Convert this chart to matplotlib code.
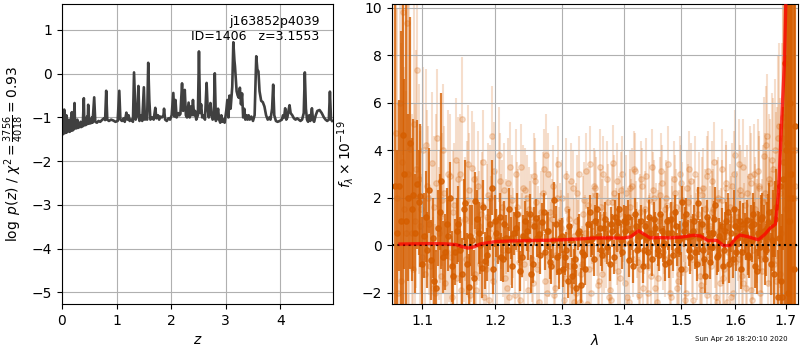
import matplotlib
matplotlib.use('Agg')
import matplotlib.pyplot as plt
import numpy as np

# redshift grid and log p(z)
pz_z = [0.00, 0.01, 0.02, 0.03, 0.04, 0.05, 0.06, 0.07, 0.08, 0.09,
        0.11, 0.13, 0.14, 0.16, 0.18, 0.19, 0.21, 0.23, 0.24, 0.26,
        0.28, 0.29, 0.32, 0.34, 0.35, 0.38, 0.40, 0.41, 0.44, 0.46,
        0.47, 0.48, 0.50, 0.53, 0.55, 0.56, 0.59, 0.61, 0.64, 0.67,
        0.70, 0.74, 0.77, 0.79, 0.81, 0.83, 0.86, 0.90, 0.94, 0.98,
        1.02, 1.05, 1.07, 1.10, 1.13, 1.15, 1.18, 1.20, 1.22, 1.24,
        1.27, 1.30, 1.32, 1.35, 1.38, 1.40, 1.42, 1.45, 1.47, 1.50,
        1.52, 1.54, 1.56, 1.58, 1.60, 1.62, 1.65, 1.68, 1.71, 1.73,
        1.76, 1.78, 1.80, 1.83, 1.86, 1.87, 1.89, 1.92, 1.95, 1.98,
        2.01, 2.04, 2.06, 2.08, 2.10, 2.13, 2.15, 2.17, 2.20, 2.22,
        2.25, 2.27, 2.29, 2.32, 2.34, 2.36, 2.38, 2.40, 2.42, 2.44,
        2.46, 2.49, 2.51, 2.53, 2.55, 2.57, 2.59, 2.62, 2.65, 2.67,
        2.69, 2.72, 2.74, 2.76, 2.78, 2.80, 2.82, 2.84, 2.86, 2.88,
        2.90, 2.92, 2.94, 2.96, 2.98, 3.01, 3.03, 3.05, 3.07, 3.09,
        3.12, 3.14, 3.16, 3.17, 3.20, 3.22, 3.24, 3.26, 3.28, 3.30,
        3.32, 3.34, 3.36, 3.38, 3.40, 3.42, 3.44, 3.47, 3.50, 3.53,
        3.56, 3.58, 3.60, 3.62, 3.65, 3.68, 3.71, 3.74, 3.77, 3.80,
        3.82, 3.85, 3.87, 3.89, 3.92, 3.95, 3.99, 4.03, 4.05, 4.07,
        4.09, 4.11, 4.13, 4.15, 4.17, 4.19, 4.22, 4.25, 4.28, 4.31,
        4.34, 4.37, 4.40, 4.43, 4.45, 4.47, 4.49, 4.51, 4.53, 4.55,
        4.58, 4.60, 4.62, 4.65, 4.68, 4.72, 4.76, 4.80, 4.83, 4.86,
        4.89, 4.91, 4.93, 4.95]
pz_logp = [-1.38, -0.85, -1.38, -1.30, -0.82, -1.36, -0.98, -1.35, -0.95, -1.34,
           -1.30, -1.05, -1.33, -1.30, -0.88, -1.30, -1.28, -0.67, -1.25, -1.25,
           -1.05, -1.24, -1.22, -1.10, -1.22, -1.20, -0.56, -1.18, -1.17, -0.98,
           -1.15, -0.71, -1.14, -1.13, -1.00, -1.12, -0.54, -1.10, -1.12, -1.08,
           -1.10, -1.05, -1.02, -1.06, -0.39, -1.05, -1.08, -1.05, -1.07, -1.10,
           -1.08, -0.39, -1.05, -1.08, -1.02, -1.10, -0.89, -1.05, -0.95, -1.08,
           -1.05, -1.10, 0.03, -1.05, -0.95, -0.28, -1.08, -0.95, -1.08, -0.31,
           -1.05, -0.98, -1.05, 0.25, -0.60, -1.05, -1.00, -1.05, -0.78, -1.02,
           -0.95, -1.05, -0.98, -1.00, -0.95, -0.80, -1.05, -1.08, -1.02, -1.05,
           -0.95, -0.44, -0.98, -0.60, -1.00, -0.90, -0.95, -0.92, -0.22, -0.85,
           -0.37, -0.95, -1.00, -0.66, -1.00, -0.75, -0.95, -0.60, -0.95, -0.85,
           -1.05, -0.95, 0.51, -0.90, -0.70, -1.00, -0.95, -1.05, -0.21, -0.80,
           -1.00, -0.67, -0.95, -1.05, -1.02, 0.01, -1.08, -1.00, -0.80, -1.05,
           -1.12, -0.95, -1.10, -1.05, -1.12, -0.85, -0.60, -1.00, -0.50, -0.80,
           -0.30, 0.72, 0.30, 0.17, -0.40, -0.50, -0.55, -0.32, -0.70, -0.45,
           -1.00, -0.80, -1.05, -0.95, -1.05, -0.95, -1.05, -0.98, -1.08, -0.95,
           0.40, 0.10, 0.05, -0.40, -0.62, -0.65, -0.75, -0.95, -1.05, -1.00,
           -1.05, -0.80, -0.25, -0.95, -1.08, -1.10, -1.08, -1.05, -0.95, -1.00,
           -0.79, -1.05, -1.00, -0.85, -0.72, -0.90, -0.95, -1.02, -1.05, -1.02,
           -1.05, -1.08, -1.05, -0.90, 0.03, -0.80, -1.05, -1.10, -0.95, -1.08,
           -0.79, -1.05, -1.10, -0.95, -0.85, -0.83, -0.90, -1.00, -1.05, -1.08,
           -1.05, -0.41, -1.05, -1.08]

# G141 spectra, 46.5 A pixels (microns); two dark beams, three light beams
dw = 0.00465
dark_w0 = [1.0650, 1.0673]
light_w0 = [1.0658, 1.0673, 1.0688]

dark_flux = [2.5, 2.5, 4.65, 1.0, 4.3, 2.1, 2.55, 2.08, 0.4, -0.2,
             -0.63, -1.5, 0.7, 2.71, -0.3, 0.4, -0.9, -0.3, 0.88, -1.2,
             1.75, -1.76, 0.2, 1.87, 0.5, -0.95, -0.66, 0.3, 2.42, 1.0,
             0.2, -0.5, 0.9, -0.2, 0.3, 0.5, 1.3, -1.1, 0.4, 0.6,
             1.3, -0.8, 1.15, 0.45, 0.95, -0.3, 0.6, -0.9, 1.9, -0.5,
             0.3, -1.0, -0.2, 0.8, -1.3, -0.6, 0.5, -1.7, -0.4, 0.2,
             1.4, 0.3, 1.0, 0.4, -0.2, 0.7, -0.1, -0.8, 0.6, 1.2,
             0.95, 0.2, 1.0, 0.95, -0.65, 0.5, 1.3, -0.2, 0.4, -0.9,
             0.8, -0.3, 0.5, 1.1, 0.2, -0.4, 0.6, 0.1, 1.0, -0.7,
             0.5, 1.4, -0.2, 0.3, 1.8, 0.9, 0.35, -0.5, 0.6, -0.3,
             1.75, 0.4, -0.2, -1.3, 0.3, -0.7, 0.5, 1.7, -0.4, 0.2,
             -0.9, 0.6, 1.4, 0.1, -0.6, 0.8, 0.3, 1.0, -0.3, 0.5,
             1.05, -0.5, 0.2, 0.9, -1.1, 0.4, 1.1, 0.6, -0.2, 0.95,
             -0.8, 0.9, 1.1, -2.2, 2.5, -2.2, 7.65, 4.3, 1.0, 3.0,
             -1.0]
dark_err = [20, 3.6, 12, 12, 5.3, 3.2, 2.7, 3.0, 1.8, 1.6,
            1.7, 1.5, 1.6, 3.7, 1.6, 1.5, 1.5, 1.4, 1.6, 1.5,
            1.85, 1.4, 1.5, 1.2, 1.3, 1.3, 1.2, 1.2, 1.15, 1.1,
            1.0, 1.0, 0.95, 0.95, 0.9, 0.9, 0.9, 0.85, 0.85, 0.85,
            0.85, 0.8, 0.8, 0.8, 0.8, 0.75, 0.8, 0.75, 0.75, 0.75,
            0.75, 0.75, 0.75, 0.7, 0.75, 0.75, 0.7, 0.75, 0.7, 0.7,
            0.7, 0.7, 0.7, 0.7, 0.7, 0.7, 0.7, 0.7, 0.7, 0.7,
            0.7, 0.7, 0.7, 0.7, 0.7, 0.7, 0.7, 0.7, 0.7, 0.7,
            0.7, 0.7, 0.7, 0.7, 0.7, 0.7, 0.7, 0.7, 0.7, 0.7,
            0.7, 0.7, 0.7, 0.7, 0.7, 0.7, 0.7, 0.7, 0.7, 0.7,
            0.7, 0.7, 0.7, 0.7, 0.7, 0.75, 0.75, 0.75, 0.75, 0.75,
            0.75, 0.8, 0.8, 0.8, 0.8, 0.8, 0.8, 0.85, 0.85, 0.85,
            0.85, 0.9, 0.9, 0.9, 0.95, 1.0, 1.0, 1.1, 1.1, 1.2,
            1.3, 1.4, 1.6, 2.0, 2.6, 3.5, 20, 20, 20, 20,
            20]
dark2_flux = [0.5, 1.0, 3.0, 2.0, 1.5, 0.5, 1.8, -0.8, 1.2, 2.3,
              0.3, -1.8, 1.4, -0.5, 0.9, 2.0, -1.3, 0.6, -0.2, 1.5,
              -0.8, 0.4, -1.4, 1.1, 0.0, 1.6, -0.4, 0.9, -1.0, 0.5,
              1.2, -0.6, 0.3, 1.5, -0.9, 0.7, 0.1, -0.5, 1.0, 0.2,
              -1.2, 0.8, 0.3, -0.4, 1.4, 0.6, -0.7, 0.2, 0.9, -1.1,
              0.4, -0.5, -1.5, 0.2, -0.9, -1.8, 0.6, -0.3, -1.0, 0.9,
              0.2, -0.6, 1.5, 0.7, -0.4, 1.1, 0.3, 0.9, -0.5, 0.4,
              1.5, -0.3, 0.6, 1.2, 0.1, -0.9, 0.8, 0.4, 1.0, -0.2,
              0.3, 1.2, -0.6, 0.7, -0.2, 1.3, 0.0, -0.8, 0.5, 1.1,
              -0.4, 0.8, 0.2, -1.0, 0.6, 1.3, -0.2, 0.4, 1.0, -0.8,
              0.3, 0.9, -0.6, 1.2, 0.5, -0.1, 1.1, -0.5, 0.4, 0.8,
              -0.2, 1.0, -0.8, 0.5, 1.5, -0.3, 0.7, -1.0, 0.9, 0.2,
              -0.4, 0.8, 1.3, -0.9, 0.5, -0.1, 1.2, -0.6, 0.7, 1.4,
              0.2, -1.2, 1.6, 0.3, -1.5, 2.8, 4.0, -2.0, 6.0, 2.0,
              5.0]
dark2_err = [3.5, 8.0, 4.0, 3.5, 3.0, 2.5, 2.2, 2.0, 1.9, 1.8,
             1.7, 1.6, 1.6, 1.5, 1.5, 1.5, 1.4, 1.4, 1.4, 1.3,
             1.3, 1.3, 1.2, 1.2, 1.2, 1.15, 1.1, 1.1, 1.05, 1.0,
             1.0, 0.95, 0.95, 0.9, 0.9, 0.9, 0.85, 0.85, 0.85, 0.85,
             0.8, 0.8, 0.8, 0.8, 0.8, 0.75, 0.75, 0.75, 0.75, 0.75,
             0.75, 0.75, 0.75, 0.7, 0.75, 0.75, 0.7, 0.75, 0.7, 0.7,
             0.7, 0.7, 0.7, 0.7, 0.7, 0.7, 0.7, 0.7, 0.7, 0.7,
             0.7, 0.7, 0.7, 0.7, 0.7, 0.7, 0.7, 0.7, 0.7, 0.7,
             0.7, 0.7, 0.7, 0.7, 0.7, 0.7, 0.7, 0.7, 0.7, 0.7,
             0.7, 0.7, 0.7, 0.7, 0.7, 0.7, 0.7, 0.7, 0.7, 0.7,
             0.7, 0.7, 0.7, 0.7, 0.7, 0.75, 0.75, 0.75, 0.75, 0.75,
             0.75, 0.8, 0.8, 0.8, 0.8, 0.8, 0.8, 0.85, 0.85, 0.85,
             0.85, 0.9, 0.9, 0.9, 0.95, 1.0, 1.0, 1.1, 1.1, 1.2,
             1.3, 1.4, 1.6, 1.9, 2.3, 3.0, 4.0, 20, 20, 20,
             20]

light_flux = [4.7, 6.0, 9.8, 9.35, 4.05, 5.1, 7.35, 1.5, -1.2, 2.0,
              3.45, -2.0, 0.5, 1.9, -1.6, 0.2, -2.2, 3.6, 1.0, 5.3,
              -0.6, 2.3, 3.25, -1.9, 0.8, 1.7, -1.0, -2.3, 4.6, 0.4,
              3.8, 1.6, -1.4, 2.6, 0.2, -2.1, 1.3, 3.3, -0.8, 2.0,
              0.9, -1.6, 1.8, -2.4, 2.2, 3.8, -0.5, 1.1, -1.8, 3.4,
              0.7, -2.3, 1.5, -0.9, 2.4, -2.0, 0.3, -1.2, 1.9, -2.5,
              3.4, 0.6, 2.1, -1.5, 1.2, -0.4, 2.8, -1.9, 3.45, 0.8,
              -1.1, 2.3, 0.1, -2.2, 1.6, 2.5, 3.1, -0.7, 1.4, -1.8,
              2.9, 0.5, -1.3, 2.0, -2.4, 1.0, 2.6, -0.6, 1.7, -2.0,
              0.9, 2.2, -1.5, 3.0, 0.3, -1.0, 1.8, 2.7, -2.3, 0.6,
              1.3, -1.7, 2.4, 0.0, 3.1, -0.9, 1.5, -2.2, 2.0, 0.7,
              -1.4, 2.6, -0.3, 1.1, -2.0, 3.8, 0.4, 2.3, -1.6, 1.7,
              -0.5, 2.9, -2.3, 1.2, 0.6, 2.5, -1.1, 3.75, 1.9, 2.8,
              0.3, 3.2, -1.5, 4.5, 2.2, 5.4, 2.5, 3.0, 6.0, -1.0,
              2.0]
light2_flux = [2.0, -1.5, 1.5, 3.0, 0.5, 1.0, 2.8, -0.5, 4.2, 0.9,
               -1.8, 2.6, 1.2, 4.0, -0.3, 2.9, 1.4, -1.4, 3.0, 0.2,
               1.9, -2.1, 2.8, 0.6, -0.8, 3.5, 1.2, 2.0, -1.5, 1.0,
               2.7, -0.2, 0.8, -2.2, 1.9, 3.0, -0.7, 0.4, 2.3, -1.9,
               1.2, 2.9, -1.0, 0.5, 3.2, -2.0, 1.4, 2.5, -0.4, 0.0,
               2.0, -1.4, 0.6, 2.7, -2.4, 1.0, 3.0, -0.8, 0.5, 1.7,
               -2.0, 2.5, 0.3, 3.3, -1.2, 0.9, 1.8, -2.3, 2.2, -0.1,
               1.3, 3.0, -1.6, 0.8, 2.4, -0.6, 1.1, -2.1, 2.8, 0.4,
               -0.9, 1.9, 3.3, -1.8, 0.7, 2.1, -0.3, 1.5, 3.4, -2.2,
               0.2, 1.6, -1.2, 2.6, 0.9, -2.0, 3.2, 0.5, 1.2, -0.7,
               2.3, -1.9, 0.8, 2.9, -0.4, 1.4, 3.5, -2.4, 0.6, 1.9,
               -1.0, 2.4, 0.2, -2.2, 3.0, 1.0, -0.6, 2.1, 3.3, -1.8,
               0.9, 2.6, -0.2, 1.5, 3.1, -2.0, 0.4, 2.2, 4.6, 1.0,
               3.6, -0.8, 2.4, 5.0, 0.5, 3.5, 1.5, 2.0, 1.0, 4.0,
               2.5]
light3_flux = [-2.0, 3.5, 0.5, 2.0, -1.0, 3.2, 0.8, 4.0, 2.5, -0.9,
               1.6, 4.5, -1.3, 2.2, 3.0, -0.5, 1.7, 2.8, -1.9, 1.1,
               3.4, 0.0, -1.2, 2.5, 1.3, -2.2, 2.1, 0.7, 3.1, -0.6,
               1.0, 2.3, -1.8, 3.3, 0.5, 1.6, -2.3, 2.4, 0.3, 1.5,
               -0.6, 2.7, 0.8, 1.4, -1.5, 3.0, 0.1, -2.1, 2.0, 1.0,
               -0.4, 2.9, 1.1, -1.7, 0.4, 2.2, -2.4, 1.3, 3.1, -1.0,
               0.8, 2.4, -1.7, 1.6, 3.0, -0.2, -2.2, 1.8, 0.5, 2.7,
               -1.4, 0.9, 2.2, -2.4, 1.2, 3.2, 0.2, -1.0, 2.5, 1.5,
               -2.0, 0.6, 2.3, 1.0, -1.4, 3.1, 0.4, 2.0, -0.5, 1.3,
               2.8, -1.8, 0.7, 1.9, -2.3, 2.4, 1.1, -0.6, 3.0, 0.3,
               -1.3, 2.1, 1.5, -2.1, 0.8, 2.7, -0.1, 1.9, -1.6, 3.2,
               0.5, -2.4, 1.6, 2.5, -0.7, 1.2, 3.4, -1.3, 0.6, 2.2,
               1.0, -1.9, 3.0, 0.4, 2.4, -0.6, 1.8, 4.2, -1.6, 2.6,
               0.7, 4.0, 2.6, -1.2, 4.5, 3.5, 5.0, 2.0, 3.0, 0.0,
               4.0]
light_err = [8, 10, 6, 9, 5, 5, 4, 3.5, 3.2, 3.0,
             3.0, 2.9, 2.8, 2.8, 2.7, 2.6, 2.6, 2.6, 2.5, 2.6,
             2.5, 2.4, 2.4, 2.3, 2.3, 2.2, 2.2, 2.2, 2.1, 2.1,
             2.0, 2.0, 2.0, 1.9, 1.9, 1.9, 1.9, 1.8, 1.8, 1.8,
             1.8, 1.8, 1.7, 1.7, 1.7, 1.7, 1.7, 1.7, 1.7, 1.6,
             1.6, 1.6, 1.6, 1.6, 1.6, 1.6, 1.6, 1.6, 1.6, 1.6,
             1.6, 1.6, 1.6, 1.6, 1.6, 1.6, 1.6, 1.6, 1.6, 1.6,
             1.6, 1.6, 1.6, 1.6, 1.6, 1.6, 1.6, 1.6, 1.6, 1.6,
             1.6, 1.6, 1.6, 1.6, 1.6, 1.6, 1.6, 1.6, 1.6, 1.6,
             1.6, 1.6, 1.6, 1.6, 1.6, 1.6, 1.6, 1.6, 1.6, 1.6,
             1.6, 1.6, 1.7, 1.7, 1.7, 1.7, 1.7, 1.7, 1.7, 1.7,
             1.8, 1.8, 1.8, 1.8, 1.8, 1.9, 1.9, 1.9, 2.0, 2.0,
             2.0, 2.1, 2.1, 2.2, 2.2, 2.3, 2.4, 2.5, 2.6, 2.7,
             2.8, 3.0, 3.2, 3.5, 4.0, 8, 12, 15, 20, 20,
             20]

# best-fit template
model_wave = [1.071, 1.09, 1.11, 1.13, 1.145, 1.155, 1.162, 1.17, 1.18, 1.2025,
              1.225, 1.251, 1.28, 1.30, 1.325, 1.347, 1.37, 1.40, 1.412, 1.425,
              1.435, 1.445, 1.462, 1.48, 1.50, 1.522, 1.535, 1.549, 1.565, 1.578,
              1.59, 1.60, 1.609, 1.625, 1.645, 1.658, 1.668, 1.679, 1.685, 1.692,
              1.697, 1.701]
model_flux = [0.04, 0.05, 0.06, 0.05, 0.02, -0.08, -0.13, -0.08, 0.05, 0.15,
              0.17, 0.19, 0.20, 0.22, 0.25, 0.29, 0.30, 0.29, 0.35, 0.60,
              0.45, 0.30, 0.31, 0.30, 0.33, 0.41, 0.38, 0.18, 0.20, -0.03,
              -0.02, 0.25, 0.42, 0.35, 0.22, 0.45, 0.70, 0.88, 2.15, 5.4,
              7.6, 11.0]

root, obj_id, zbest = 'j163852p4039', 1406, 3.1553
chi2, dof = 3756, 4018
stamp = 'Sun Apr 26 18:20:10 2020'

gcolor = '#d55e00'


def wave_grid(w0, n):
    return w0 + dw * np.arange(n)


fig = plt.figure(figsize=(8, 3.5), dpi=100)

# p(z)
ax = fig.add_axes([0.0775, 0.131, 0.339, 0.857])
ax.plot(pz_z, pz_logp, color='0.25', lw=1.9)
ax.set_xlim(0, 4.97)
ax.set_ylim(-5.27, 1.59)
ax.set_xlabel(r'$z$')
ax.set_ylabel(r'$\log\ p(z)$' + ' / ' +
              r'$\chi^2=\frac{%d}{%d}=%.2f$' % (chi2, dof, chi2 / dof))
ax.text(0.95, 0.965, '%s\nID=%d   z=%.4f' % (root, obj_id, zbest),
        ha='right', va='top', transform=ax.transAxes, fontsize=9)
ax.grid()

# 1D spectrum
ax2 = fig.add_axes([0.4896, 0.131, 0.508, 0.857])
for w0, fl in zip(light_w0, [light_flux, light2_flux, light3_flux]):
    ax2.errorbar(wave_grid(w0, len(fl)), fl, light_err, fmt='o', color=gcolor,
                 alpha=0.2, ms=4, elinewidth=1.5, zorder=1)
for w0, fl, er in zip(dark_w0, [dark_flux, dark2_flux], [dark_err, dark2_err]):
    ax2.errorbar(wave_grid(w0, len(fl)), fl, er, fmt='o', color=gcolor,
                 alpha=0.8, ms=3.8, elinewidth=1.6, zorder=2)
ax2.plot(model_wave, model_flux, color='r', alpha=0.75, lw=2.4, zorder=4)
ax2.axhline(0, color='k', ls=':', lw=1.5, zorder=3)
ax2.set_xscale('log')
ticks = [1.1, 1.2, 1.3, 1.4, 1.5, 1.6, 1.7]
ax2.set_xticks(ticks)
ax2.set_xticklabels(['%.1f' % t for t in ticks])
ax2.xaxis.set_minor_locator(matplotlib.ticker.NullLocator())
ax2.set_xlim(1.0604, 1.7252)
ax2.set_ylim(-2.49, 10.14)
ax2.set_xlabel(r'$\lambda$')
ax2.set_ylabel(r'$f_\lambda\times10^{-19}$')
ax2.grid()

fig.text(0.985, 0.03, stamp, ha='right', va='center', fontsize=5)

fig.savefig('out.png', dpi=100)
